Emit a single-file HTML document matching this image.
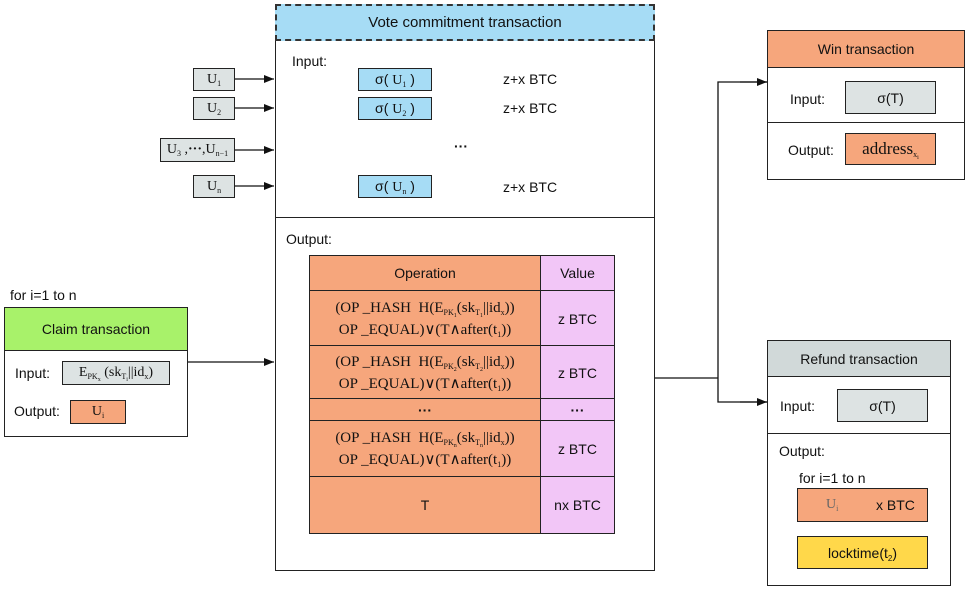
<!DOCTYPE html>
<html><head><meta charset="utf-8"><style>
body{margin:0;width:968px;height:590px;background:#fff;position:relative;overflow:hidden;font-family:"Liberation Sans",sans-serif;font-size:14px;color:#111}
.a{position:absolute;box-sizing:border-box}
.b{border:1.5px solid #222}
.c{display:flex;align-items:center;justify-content:center;text-align:center}
.c>span{display:block;white-space:nowrap}
.s{font-family:"Liberation Serif",serif}
sub{font-size:8px;vertical-align:-3px;line-height:0}
sub sub{font-size:6px;vertical-align:-2px}
.g{background:#dde3e3}.o{background:#f6a67c}.bl{background:#a6dcf5}.p{background:#f2c6f7}
</style></head><body>
<svg class="a" style="left:0;top:0" width="968" height="590">
<defs><marker id="m" markerWidth="10" markerHeight="8" refX="10" refY="4" orient="auto" markerUnits="userSpaceOnUse"><path d="M0,0L10,4L0,8z" fill="#111"/></marker></defs>
<g stroke="#111" stroke-width="1.3" fill="none">
<line x1="235" y1="79" x2="274" y2="79" marker-end="url(#m)"/>
<line x1="235" y1="108" x2="274" y2="108" marker-end="url(#m)"/>
<line x1="235" y1="150" x2="274" y2="150" marker-end="url(#m)"/>
<line x1="235" y1="186" x2="274" y2="186" marker-end="url(#m)"/>
<line x1="187" y1="362" x2="274" y2="362" marker-end="url(#m)"/>
<polyline points="654,378 718,378"/>
<polyline points="767,82 718,82 718,402 767,402" />
<line x1="740" y1="82" x2="767" y2="82" marker-end="url(#m)"/>
<line x1="740" y1="402" x2="767" y2="402" marker-end="url(#m)"/>
</g></svg>

<div class="a b" style="left:275px;top:4px;width:380px;height:567px"></div>
<div class="a bl c" style="left:275px;top:4px;width:380px;height:37px;border:2px dashed #333;font-size:15px"><span>Vote commitment transaction</span></div>
<div class="a" style="left:275px;top:217px;width:380px;border-top:1.5px solid #222"></div>
<div class="a" style="left:292px;top:53px">Input:</div>
<div class="a" style="left:286px;top:231px">Output:</div>

<div class="a b g c s" style="left:193px;top:68px;width:42px;height:23px"><span>U<sub>1</sub></span></div>
<div class="a b g c s" style="left:193px;top:97px;width:42px;height:23px"><span>U<sub>2</sub></span></div>
<div class="a b g c s" style="left:160px;top:138px;width:75px;height:24px"><span>U<sub>3</sub>&nbsp;,<b>···</b>,U<sub>n−1</sub></span></div>
<div class="a b g c s" style="left:193px;top:175px;width:42px;height:23px"><span>U<sub>n</sub></span></div>

<div class="a b bl c" style="left:358px;top:68px;width:74px;height:23px"><span>σ(&nbsp;<span class="s">U<sub>1</sub></span>&nbsp;)</span></div>
<div class="a b bl c" style="left:358px;top:97px;width:74px;height:23px"><span>σ(&nbsp;<span class="s">U<sub>2</sub></span>&nbsp;)</span></div>
<div class="a b bl c" style="left:358px;top:175px;width:74px;height:23px"><span>σ(&nbsp;<span class="s">U<sub>n</sub></span>&nbsp;)</span></div>
<div class="a" style="left:503px;top:71px">z+x BTC</div>
<div class="a" style="left:503px;top:100px">z+x BTC</div>
<div class="a" style="left:503px;top:179px">z+x BTC</div>
<div class="a" style="left:454px;top:138px;font-weight:bold">···</div>

<div class="a" style="left:309px;top:255px;width:305px;height:279px;border:1.5px solid #222">
<div class="a o b c" style="left:-1.5px;top:-1.5px;width:233px;height:37px"><span>Operation</span></div>
<div class="a p b c" style="left:230px;top:-1.5px;width:75px;height:37px"><span>Value</span></div>
<div class="a o b c s" style="left:-1.5px;top:34px;width:233px;height:57px;font-size:15px;line-height:22px"><span>(OP _HASH&nbsp; H(E<sub>PK<sub>1</sub></sub>(sk<sub>T<sub>1</sub></sub>||id<sub>x</sub>))<br>OP _EQUAL)∨(T∧after(t<sub>1</sub>))</span></div>
<div class="a p b c" style="left:230px;top:34px;width:75px;height:57px"><span>z BTC</span></div>
<div class="a o b c s" style="left:-1.5px;top:89px;width:233px;height:55px;font-size:15px;line-height:22px"><span>(OP _HASH&nbsp; H(E<sub>PK<sub>2</sub></sub>(sk<sub>T<sub>2</sub></sub>||id<sub>x</sub>))<br>OP _EQUAL)∨(T∧after(t<sub>1</sub>))</span></div>
<div class="a p b c" style="left:230px;top:89px;width:75px;height:55px"><span>z BTC</span></div>
<div class="a o b c" style="left:-1.5px;top:142px;width:233px;height:24px;font-weight:bold"><span>···</span></div>
<div class="a p b c" style="left:230px;top:142px;width:75px;height:24px;font-weight:bold"><span>···</span></div>
<div class="a o b c s" style="left:-1.5px;top:164px;width:233px;height:58px;font-size:15px;line-height:22px"><span>(OP _HASH&nbsp; H(E<sub>PK<sub>n</sub></sub>(sk<sub>T<sub>n</sub></sub>||id<sub>x</sub>))<br>OP _EQUAL)∨(T∧after(t<sub>1</sub>))</span></div>
<div class="a p b c" style="left:230px;top:164px;width:75px;height:58px"><span>z BTC</span></div>
<div class="a o b c" style="left:-1.5px;top:220px;width:233px;height:57.5px"><span>T</span></div>
<div class="a p b c" style="left:230px;top:220px;width:75px;height:57.5px"><span>nx BTC</span></div>
</div>

<div class="a" style="left:10px;top:287px">for i=1 to n</div>
<div class="a b" style="left:4px;top:307px;width:184px;height:130px"></div>
<div class="a b c" style="left:4px;top:307px;width:184px;height:44px;background:#a8f26a"><span>Claim transaction</span></div>
<div class="a" style="left:15px;top:365px">Input:</div>
<div class="a b g c s" style="left:62px;top:361px;width:108px;height:24px"><span>E<sub>PK<sub>x</sub></sub>&nbsp;(sk<sub>T<sub>i</sub></sub>||id<sub>x</sub>)</span></div>
<div class="a" style="left:14px;top:403px">Output:</div>
<div class="a b o c s" style="left:70px;top:400px;width:56px;height:24px"><span>U<sub>i</sub></span></div>

<div class="a b" style="left:767px;top:30px;width:198px;height:150px"></div>
<div class="a b o c" style="left:767px;top:30px;width:198px;height:38px"><span>Win transaction</span></div>
<div class="a" style="left:767px;top:122px;width:198px;border-top:1.5px solid #222"></div>
<div class="a" style="left:790px;top:91px">Input:</div>
<div class="a b g c" style="left:845px;top:81px;width:91px;height:33px"><span>σ(T)</span></div>
<div class="a" style="left:788px;top:142px">Output:</div>
<div class="a b o c s" style="left:845px;top:133px;width:91px;height:32px;font-size:17px"><span>address<sub>x<sub>i</sub></sub></span></div>

<div class="a b" style="left:767px;top:340px;width:184px;height:246px"></div>
<div class="a b c" style="left:767px;top:340px;width:184px;height:37px;background:#d1d9d9"><span>Refund transaction</span></div>
<div class="a" style="left:767px;top:433px;width:184px;border-top:1.5px solid #222"></div>
<div class="a" style="left:780px;top:398px">Input:</div>
<div class="a b g c" style="left:837px;top:389px;width:91px;height:33px"><span>σ(T)</span></div>
<div class="a" style="left:779px;top:443px">Output:</div>
<div class="a" style="left:799px;top:470px">for i=1 to n</div>
<div class="a b o" style="left:797px;top:488px;width:131px;height:34px"><span class="a s" style="left:28px;top:8px;color:#666">U<sub>i</sub></span><span class="a" style="left:78px;top:8px">x BTC</span></div>
<div class="a b c" style="left:797px;top:536px;width:131px;height:33px;background:#ffd84a"><span>locktime(t<sub>2</sub>)</span></div>
</body></html>
